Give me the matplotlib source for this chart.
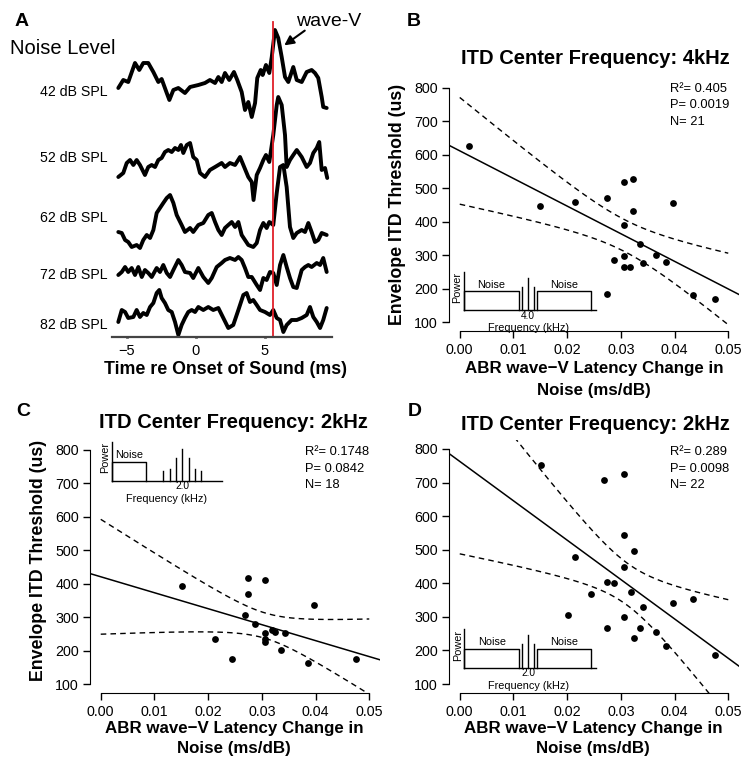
import numpy as np
import matplotlib
matplotlib.use('Agg')
import matplotlib.pyplot as plt

plt.rcParams['font.family'] = ['Liberation Sans', 'DejaVu Sans']
plt.rcParams['axes.unicode_minus'] = True

# ------------------------------------------------------------------ data
# Panel A: ABR traces (time in ms, amplitude in arbitrary units)
noise_levels = ['42 dB SPL', '52 dB SPL', '62 dB SPL', '72 dB SPL', '82 dB SPL']
t_42 = [-5.63, -5.27, -4.91, -4.42, -4.11, -3.82, -3.46, -3.09, -2.73, -2.49, -2.12, -1.93, -1.64,
        -1.28, -0.80, -0.43, 0.17, 0.65, 1.01, 1.38, 1.62, 1.86, 2.10, 2.41, 2.75, 2.99, 3.31, 3.55,
        3.79, 4.04, 4.28, 4.44, 4.69, 4.83, 5.07, 5.31, 5.49, 5.72, 5.96, 6.21, 6.45, 6.69, 7.05,
        7.30, 7.66, 8.02, 8.38, 8.62, 8.86, 9.11, 9.22, 9.47]
a_42 = [4, 12, 10, 29, 22, 29, 29, 20, 10, 13, -1, -8, 2, 4, -1, 5, 7, 9, 12, 9, 15, 10, 19, 12, 20,
        12, 0, -18, -10, -25, -11, 14, 22, 17, 27, 19, 35, 62, 54, 35, 15, 10, 25, 12, 10, 20, 22,
        19, 14, -5, -15, -16]
t_52 = [-5.63, -5.27, -5.02, -4.78, -4.54, -4.30, -4.06, -3.70, -3.46, -3.21, -2.97, -2.73, -2.49,
        -2.25, -2.01, -1.76, -1.52, -1.28, -1.09, -0.92, -0.67, -0.43, -0.20, 0.05, 0.29, 0.65,
        1.01, 1.38, 1.62, 1.86, 2.10, 2.46, 2.83, 3.19, 3.43, 3.79, 4.04, 4.17, 4.40, 4.64, 4.88,
        5.07, 5.31, 5.60, 5.85, 5.96, 6.21, 6.45, 6.57, 6.81, 7.05, 7.30, 7.66, 8.02, 8.26, 8.50,
        8.75, 8.93, 9.11, 9.35, 9.51]
a_52 = [-19, -15, -5, -2, -7, -2, -7, -17, -9, -7, -9, -2, 0, 6, 8, 6, 10, 8, 13, 5, 13, 15, 1, -2,
        -15, -19, -12, -9, -7, -5, -9, -5, -7, 1, -7, -19, -24, -42, -17, -10, -2, 3, -4, 23, 53,
        61, 53, 23, -9, -2, 3, 8, 1, -9, -5, 5, 10, 16, -12, -10, -20]
t_62 = [-5.63, -5.38, -5.14, -4.91, -4.66, -4.30, -4.06, -3.82, -3.57, -3.33, -3.09, -2.85, -2.61,
        -2.37, -2.12, -1.88, -1.64, -1.40, -1.04, -0.80, -0.43, -0.20, 0.17, 0.53, 0.89, 1.14,
        1.38, 1.62, 1.86, 2.10, 2.34, 2.59, 2.83, 3.07, 3.31, 3.55, 3.79, 4.15, 4.40, 4.64, 4.88,
        5.12, 5.31, 5.60, 5.85, 6.09, 6.33, 6.57, 6.81, 7.05, 7.30, 7.66, 7.90, 8.14, 8.38, 8.62,
        8.86, 9.11, 9.47]
a_62 = [-14, -15, -22, -24, -29, -27, -30, -22, -17, -20, -12, 5, 10, 15, 20, 23, 15, 3, -7, -14,
        -10, -14, -7, -5, 3, 5, -4, -12, -17, -10, -7, -4, -9, -4, -17, -22, -27, -29, -25, -12,
        -5, -10, -4, -7, 25, 51, 53, 31, -9, -20, -15, -12, -14, -5, -14, -24, -22, -15, -17]
t_72 = [-5.63, -5.38, -5.14, -4.91, -4.66, -4.42, -4.18, -3.93, -3.70, -3.46, -3.21, -2.85, -2.61,
        -2.37, -2.12, -1.88, -1.64, -1.28, -1.04, -0.80, -0.43, -0.20, 0.17, 0.53, 0.89, 1.14,
        1.50, 1.86, 2.10, 2.46, 2.83, 3.07, 3.31, 3.55, 3.79, 4.04, 4.40, 4.64, 4.88, 5.12, 5.36,
        5.60, 5.85, 6.09, 6.33, 6.57, 6.81, 7.05, 7.30, 7.66, 7.90, 8.14, 8.38, 8.75, 8.99, 9.22,
        9.47]
a_72 = [0, 3, 8, 3, 7, 0, 8, -2, 5, 2, -2, 7, 3, 10, 2, -2, 5, 15, 10, 3, 2, -3, 7, -2, -8, -3, 8,
        12, 15, 17, 15, 18, 15, 7, -2, -2, -10, -15, -3, -5, 3, 2, -10, 10, 20, 8, -3, -12, -13,
        5, 8, 10, 8, 12, 10, 17, 3]
t_82 = [-5.63, -5.38, -5.14, -4.91, -4.54, -4.30, -4.06, -3.82, -3.57, -3.33, -3.09, -2.85, -2.66,
        -2.49, -2.25, -2.01, -1.76, -1.52, -1.28, -1.04, -0.80, -0.56, -0.31, -0.07, 0.17, 0.53,
        0.89, 1.25, 1.62, 1.98, 2.34, 2.70, 3.07, 3.43, 3.67, 3.91, 4.15, 4.40, 4.64, 5.00, 5.36,
        5.60, 5.85, 6.09, 6.33, 6.57, 6.93, 7.30, 7.66, 8.02, 8.26, 8.50, 8.75, 8.99, 9.22, 9.47]
a_82 = [3, 15, 13, 7, 8, 15, 8, 12, 10, 18, 22, 32, 35, 27, 22, 15, 13, 3, -10, 0, 7, 13, 15, 13,
        18, 15, 18, 15, 17, 7, -3, 0, 15, 30, 32, 23, 25, 20, 15, 13, 10, 15, 7, 5, -7, 0, 5, 5,
        7, 10, 18, 8, 3, -3, 5, 17]
trace_times = [t_42, t_52, t_62, t_72, t_82]
trace_amps = [a_42, a_52, a_62, a_72, a_82]
wave_v_latency = 5.6
a_xticks = [-5, 0, 5]

# Panels B-D: ABR wave-V latency change (ms/dB) vs envelope ITD threshold (us)
b_x = [0.0017, 0.0150, 0.0214, 0.0275, 0.0306, 0.0323, 0.0323, 0.0306, 0.0397, 0.0336,
       0.0287, 0.0306, 0.0306, 0.0317, 0.0342, 0.0366, 0.0384, 0.0275, 0.0434, 0.0476]
b_y = [625, 446, 459, 472, 518, 527, 433, 390, 455, 333, 287, 297, 264, 266, 278, 300, 281,
       184, 182, 170]
c_x = [0.0151, 0.0213, 0.0244, 0.0274, 0.0274, 0.0269, 0.0288, 0.0305, 0.0305, 0.0305, 0.0305,
       0.0319, 0.0324, 0.0343, 0.0336, 0.0397, 0.0385, 0.0476]
c_y = [394, 236, 174, 418, 368, 305, 279, 411, 252, 234, 226, 262, 256, 252, 201, 336, 164, 174]
d_x = [0.0151, 0.0269, 0.0306, 0.0306, 0.0325, 0.0214, 0.0306, 0.0275, 0.0287, 0.0318, 0.0244,
       0.0342, 0.0397, 0.0434, 0.0202, 0.0306, 0.0275, 0.0336, 0.0325, 0.0366, 0.0384, 0.0476]
d_y = [753, 709, 725, 544, 497, 479, 449, 403, 401, 373, 369, 330, 340, 353, 307, 301, 268, 266,
       238, 254, 214, 187]
stats_b = ['R²= 0.405', 'P= 0.0019', 'N= 21']
stats_c = ['R²= 0.1748', 'P= 0.0842', 'N= 18']
stats_d = ['R²= 0.289', 'P= 0.0098', 'N= 22']
titles = ['ITD Center Frequency: 4kHz', 'ITD Center Frequency: 2kHz', 'ITD Center Frequency: 2kHz']
sc_xticks = [0.00, 0.01, 0.02, 0.03, 0.04, 0.05]
sc_yticks = [100, 200, 300, 400, 500, 600, 700, 800]
t975 = {16: 2.120, 18: 2.101, 20: 2.086}   # Student t quantiles for 95% band

# Stimulus schematics (frequency in kHz, power in relative units)
sch_b_noise = [(2.40, 3.78), (4.23, 5.58)]
sch_b_tones = [3.85, 4.00, 4.15]
sch_b_tone_h = [1.22, 1.69, 1.22]
sch_d_noise = [(0.40, 1.78), (2.23, 3.58)]
sch_d_tones = [1.85, 2.00, 2.15]
sch_d_tone_h = [1.22, 1.69, 1.22]
sch_c_noise = [(0.23, 1.08)]
sch_c_tones = [1.52, 1.68, 1.84, 2.00, 2.16, 2.32, 2.47]
sch_c_tone_h = [0.50, 0.61, 1.20, 1.65, 1.20, 0.61, 0.50]

# ------------------------------------------------------------------ layout helpers
W, H = 745, 762
fig = plt.figure(figsize=(W / 100, H / 100), dpi=100)


def fx(px):
    return px / W


def fy(py):
    return 1 - py / H


def rect(l, t, r, b):
    return [l / W, 1 - b / H, (r - l) / W, (b - t) / H]


# ------------------------------------------------------------------ panel A
PX_PER_MS = 13.8
ZERO_PX = 196
axA = fig.add_axes(rect(112, 15, 332, 337))
axA.set_xlim((112 - ZERO_PX) / PX_PER_MS, (332 - ZERO_PX) / PX_PER_MS)
axA.set_ylim(-337, -15)
trace_base = [92, 158, 218, 275, 325]
for tt, aa, base, lab in zip(trace_times, trace_amps, trace_base, noise_levels):
    axA.plot(tt, -base + np.asarray(aa), color='black', lw=2.8, solid_joinstyle='round',
             solid_capstyle='round')
    fig.text(fx(108), fy(base), lab, fontsize=10.2, ha='right', va='center')
axA.axvline(wave_v_latency, ymin=0, ymax=(337 - 22) / (337 - 15), color='#e0202a', lw=1.3)
for s in ['top', 'right', 'left']:
    axA.spines[s].set_visible(False)
axA.spines['bottom'].set_color('#444444')
axA.spines['bottom'].set_linewidth(1.6)
axA.set_yticks([])
axA.set_xticks(a_xticks)
axA.tick_params(axis='x', length=2, width=2, direction='inout', labelsize=10.5, pad=4)
fig.text(fx(22), fy(22), 'A', fontsize=14, fontweight='bold', ha='center', va='center')
fig.text(fx(10), fy(48), 'Noise Level', fontsize=14.5, ha='left', va='center')
fig.text(fx(329), fy(21), 'wave-V', fontsize=14, ha='center', va='center')
axA.annotate('', xy=(fx(282), fy(47)), xycoords='figure fraction',
             xytext=(fx(307), fy(29)), textcoords='figure fraction',
             arrowprops=dict(arrowstyle='-|>', color='black', lw=1.5, mutation_scale=14))
fig.text(fx(226), fy(369), 'Time re Onset of Sound (ms)', fontsize=12.8, fontweight='bold',
         ha='center', va='center')


# ------------------------------------------------------------------ scatter panels
def scatter_panel(ax, x, y):
    x = np.asarray(x, float)
    y = np.asarray(y, float)
    ax.set_xlim(-0.002, 0.052)
    ax.set_ylim(72, 828)
    for s in ['top', 'right']:
        ax.spines[s].set_visible(False)
    ax.spines['left'].set_bounds(100, 800)
    ax.spines['bottom'].set_bounds(0, 0.05)
    ax.set_xticks(sc_xticks)
    ax.set_xticklabels([f'{v:.2f}' for v in sc_xticks])
    ax.set_yticks(sc_yticks)
    ax.tick_params(length=5, width=1, labelsize=10.3, pad=3)
    n = len(x)
    b, a = np.polyfit(x, y, 1)
    xx = np.linspace(-0.002, 0.052, 100)
    ax.plot(xx, a + b * xx, color='black', lw=1.1)
    resid = y - (a + b * x)
    s = np.sqrt(np.sum(resid ** 2) / (n - 2))
    sxx = np.sum((x - x.mean()) ** 2)
    xb = np.linspace(0.0, 0.05, 200)
    se = s * np.sqrt(1.0 / n + (xb - x.mean()) ** 2 / sxx)
    tc = t975.get(n - 2, 2.1)
    for sign in (1, -1):
        ax.plot(xb, a + b * xb + sign * tc * se, color='black', lw=1.0, dashes=(4, 3))
    ax.scatter(x, y, s=24, color='black', zorder=3, linewidths=0)


def stats_text(px_x, px_y, lines):
    for i, ln in enumerate(lines):
        fig.text(fx(px_x), fy(px_y + i * 16.5), ln, fontsize=9.3, ha='left', va='center')


def schematic(rect_px, xlim, noise, tones, tone_h, center_lab, center_x, freq_x, power_y=1.15):
    ax = fig.add_axes(rect(*rect_px))
    ax.set_xlim(*xlim)
    ax.set_ylim(0, 2.0)
    ax.axis('off')
    kw = dict(color='black', lw=1.0, clip_on=False)
    ax.plot([xlim[0], xlim[0]], [0, 2.0], **kw)
    ax.plot([xlim[0], xlim[1]], [0, 0], **kw)
    for lo, hi in noise:
        ax.plot([lo, lo, hi, hi], [0, 1.0, 1.0, 0], **kw)
        ax.text((lo + hi) / 2, 1.33, 'Noise', fontsize=7.8, ha='center', va='center')
    for f, h in zip(tones, tone_h):
        ax.plot([f, f], [0, h], **kw)
    ax.text(xlim[0] - 0.16, power_y, 'Power', fontsize=7.8, rotation=90, ha='center', va='center')
    ax.text(center_x, -0.03, center_lab, fontsize=7.3, ha='center', va='top')
    ax.text(freq_x, -1.12, 'Frequency (kHz)', fontsize=7.8, ha='center', va='baseline')
    return ax


# Panel B
axB = fig.add_axes(rect(449, 78.6, 739, 331.4))
scatter_panel(axB, b_x, b_y)
fig.text(fx(414), fy(21), 'B', fontsize=14, fontweight='bold', ha='center', va='center')
fig.text(fx(595), fy(58.5), titles[0], fontsize=14.5, fontweight='bold', ha='center', va='center')
fig.text(fx(397), fy(204), 'Envelope ITD Threshold (us)', fontsize=12.8, fontweight='bold',
         rotation=90, ha='center', va='center')
fig.text(fx(594), fy(368.5), 'ABR wave\u2212V Latency Change in', fontsize=12.2,
         fontweight='bold', ha='center', va='center')
fig.text(fx(594), fy(390), 'Noise (ms/dB)', fontsize=12.2, fontweight='bold', ha='center',
         va='center')
stats_text(670, 89, stats_b)
schematic((464, 271.7, 596, 310), (2.40, 5.70), sch_b_noise, sch_b_tones, sch_b_tone_h,
          '4.0', 4.0, 4.0)

# Panel C
axC = fig.add_axes(rect(90, 440.6, 380, 693.4))
scatter_panel(axC, c_x, c_y)
fig.text(fx(23), fy(411), 'C', fontsize=14, fontweight='bold', ha='center', va='center')
fig.text(fx(233), fy(422.5), titles[1], fontsize=14.5, fontweight='bold', ha='center',
         va='center')
fig.text(fx(38.5), fy(560), 'Envelope ITD Threshold (us)', fontsize=12.8, fontweight='bold',
         rotation=90, ha='center', va='center')
fig.text(fx(234), fy(729), 'ABR wave\u2212V Latency Change in', fontsize=12.2, fontweight='bold',
         ha='center', va='center')
fig.text(fx(234), fy(749), 'Noise (ms/dB)', fontsize=12.2, fontweight='bold', ha='center',
         va='center')
stats_text(305, 452, stats_c)
schematic((111.7, 442.3, 222.3, 480.7), (0.23, 3.0), sch_c_noise, sch_c_tones, sch_c_tone_h,
          '2.0', 2.0, 1.6, power_y=1.2)

# Panel D
axD = fig.add_axes(rect(449, 439.6, 739, 693.4))
scatter_panel(axD, d_x, d_y)
fig.text(fx(415), fy(411), 'D', fontsize=14, fontweight='bold', ha='center', va='center')
fig.text(fx(595), fy(424), titles[2], fontsize=14.5, fontweight='bold', ha='center',
         va='center')
fig.text(fx(593), fy(729), 'ABR wave\u2212V Latency Change in', fontsize=12.2, fontweight='bold',
         ha='center', va='center')
fig.text(fx(593), fy(749), 'Noise (ms/dB)', fontsize=12.2, fontweight='bold', ha='center',
         va='center')
stats_text(670, 452, stats_d)
schematic((464.3, 629.3, 595.7, 667.7), (0.40, 3.70), sch_d_noise, sch_d_tones, sch_d_tone_h,
          '2.0', 2.0, 2.0)

fig.savefig('out.png', dpi=100)
